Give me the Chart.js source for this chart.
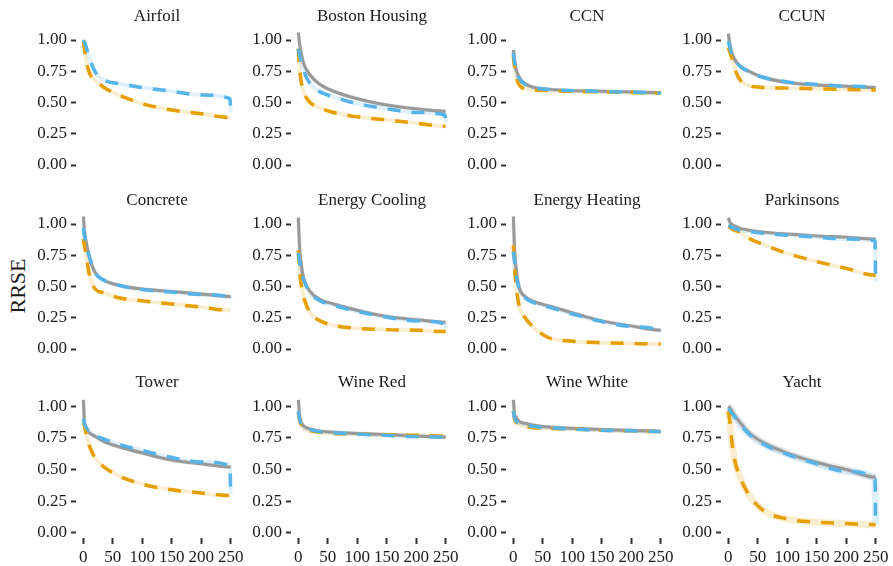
<!DOCTYPE html>
<html>
<head>
<meta charset="utf-8">
<script src="https://cdn.jsdelivr.net/npm/chart.js@4.4.1/dist/chart.umd.min.js"></script>
<style>
  html, body { margin: 0; padding: 0; background: #fff; }
  body { width: 893px; height: 566px; position: relative; overflow: hidden; }
  canvas { position: absolute; }
  #ylabel {
    position: absolute; left: 18px; top: 286px;
    font: 22px "Liberation Serif", serif; color: #1a1a1a;
    transform: translate(-50%, -50%) rotate(-90deg); white-space: nowrap;
  }
</style>
</head>
<body>
<div id="ylabel">RRSE</div>
<script>
// iteraciones (eje x) y ticks
const steps = [0, 2, 5, 10, 20, 35, 60, 100, 150, 200, 249, 250];
const xTicks = [0, 50, 100, 150, 200, 250];
const yTicks = [0, 0.25, 0.5, 0.75, 1];

// gris = linea solida, azul y naranja = discontinuas
const airfoilGray = null;
const airfoilBlue = [1.00, 0.98, 0.94, 0.86, 0.745, 0.68, 0.65, 0.62, 0.59, 0.56, 0.53, 0.42];
const airfoilOrange = [0.99, 0.92, 0.83, 0.74, 0.68, 0.62, 0.56, 0.49, 0.44, 0.41, 0.38, 0.38];

const bostonGray = [1.06, 0.97, 0.89, 0.80, 0.72, 0.65, 0.59, 0.53, 0.48, 0.45, 0.43, 0.43];
const bostonBlue = [0.93, 0.88, 0.82, 0.74, 0.65, 0.59, 0.545, 0.49, 0.45, 0.42, 0.40, 0.34];
const bostonOrange = [0.93, 0.78, 0.66, 0.57, 0.50, 0.46, 0.42, 0.385, 0.36, 0.335, 0.31, 0.31];

const ccnGray = [0.92, 0.84, 0.76, 0.70, 0.65, 0.62, 0.605, 0.595, 0.59, 0.585, 0.58, 0.58];
const ccnBlue = [0.90, 0.82, 0.75, 0.69, 0.645, 0.62, 0.605, 0.595, 0.588, 0.582, 0.575, 0.57];
const ccnOrange = [0.88, 0.78, 0.70, 0.64, 0.61, 0.60, 0.595, 0.59, 0.585, 0.58, 0.575, 0.575];

const ccunGray = [1.05, 0.98, 0.91, 0.85, 0.79, 0.75, 0.70, 0.66, 0.64, 0.63, 0.62, 0.62];
const ccunBlue = [0.99, 0.95, 0.90, 0.85, 0.79, 0.745, 0.70, 0.665, 0.645, 0.63, 0.62, 0.61];
const ccunOrange = [0.94, 0.91, 0.87, 0.78, 0.68, 0.635, 0.62, 0.615, 0.61, 0.605, 0.60, 0.60];

const concreteGray = [1.06, 0.94, 0.85, 0.74, 0.61, 0.55, 0.51, 0.48, 0.46, 0.44, 0.42, 0.42];
const concreteBlue = [0.97, 0.90, 0.83, 0.74, 0.61, 0.55, 0.51, 0.475, 0.455, 0.435, 0.415, 0.40];
const concreteOrange = [0.88, 0.82, 0.74, 0.60, 0.48, 0.45, 0.41, 0.385, 0.36, 0.335, 0.31, 0.31];

const coolingGray = [1.05, 0.82, 0.67, 0.55, 0.46, 0.40, 0.36, 0.31, 0.26, 0.235, 0.215, 0.215];
const coolingBlue = [0.77, 0.70, 0.62, 0.54, 0.45, 0.39, 0.35, 0.30, 0.255, 0.225, 0.20, 0.165];
const coolingOrange = [0.79, 0.63, 0.51, 0.40, 0.29, 0.23, 0.19, 0.165, 0.155, 0.15, 0.14, 0.14];

const heatingGray = [1.06, 0.80, 0.63, 0.49, 0.42, 0.38, 0.345, 0.29, 0.225, 0.185, 0.15, 0.15];
const heatingBlue = [0.78, 0.70, 0.58, 0.48, 0.41, 0.37, 0.335, 0.28, 0.22, 0.18, 0.145, 0.135];
const heatingOrange = [0.83, 0.66, 0.50, 0.34, 0.25, 0.17, 0.09, 0.062, 0.05, 0.045, 0.04, 0.04];

const parkinsonsGray = [1.05, 1.02, 1.00, 0.985, 0.965, 0.95, 0.935, 0.92, 0.905, 0.895, 0.88, 0.88];
const parkinsonsBlue = [0.99, 0.985, 0.975, 0.965, 0.95, 0.94, 0.925, 0.91, 0.895, 0.88, 0.865, 0.54];
const parkinsonsOrange = [0.98, 0.975, 0.965, 0.95, 0.935, 0.885, 0.835, 0.765, 0.70, 0.645, 0.59, 0.59];

const towerGray = [1.05, 0.87, 0.82, 0.79, 0.76, 0.72, 0.68, 0.63, 0.575, 0.545, 0.52, 0.52];
const towerBlue = [0.90, 0.86, 0.83, 0.80, 0.77, 0.74, 0.70, 0.65, 0.595, 0.56, 0.53, 0.31];
const towerOrange = [0.88, 0.84, 0.78, 0.69, 0.59, 0.52, 0.45, 0.385, 0.34, 0.315, 0.295, 0.295];

const wineRedGray = [1.05, 0.93, 0.87, 0.84, 0.82, 0.805, 0.795, 0.785, 0.775, 0.765, 0.755, 0.755];
const wineRedBlue = [0.96, 0.90, 0.86, 0.83, 0.815, 0.80, 0.79, 0.78, 0.77, 0.76, 0.755, 0.75];
const wineRedOrange = [0.95, 0.89, 0.85, 0.82, 0.805, 0.795, 0.785, 0.78, 0.775, 0.77, 0.765, 0.765];

const wineWhiteGray = [1.05, 0.94, 0.91, 0.88, 0.865, 0.85, 0.835, 0.825, 0.815, 0.81, 0.80, 0.80];
const wineWhiteBlue = [0.96, 0.91, 0.88, 0.865, 0.85, 0.84, 0.83, 0.82, 0.81, 0.805, 0.80, 0.80];
const wineWhiteOrange = [0.96, 0.90, 0.87, 0.855, 0.84, 0.83, 0.825, 0.82, 0.81, 0.805, 0.80, 0.80];

const yachtGray = [1.00, 0.99, 0.97, 0.93, 0.87, 0.79, 0.71, 0.63, 0.555, 0.50, 0.44, 0.44];
const yachtBlue = [0.98, 0.97, 0.95, 0.92, 0.86, 0.78, 0.70, 0.62, 0.545, 0.485, 0.425, 0.06];
const yachtOrange = [0.96, 0.90, 0.76, 0.59, 0.44, 0.30, 0.175, 0.11, 0.085, 0.074, 0.065, 0.065];

const panels = [
    { title: 'Airfoil', gray: airfoilGray, blue: airfoilBlue, orange: airfoilOrange },
    { title: 'Boston Housing', gray: bostonGray, blue: bostonBlue, orange: bostonOrange },
    { title: 'CCN', gray: ccnGray, blue: ccnBlue, orange: ccnOrange },
    { title: 'CCUN', gray: ccunGray, blue: ccunBlue, orange: ccunOrange },
    { title: 'Concrete', gray: concreteGray, blue: concreteBlue, orange: concreteOrange },
    { title: 'Energy Cooling', gray: coolingGray, blue: coolingBlue, orange: coolingOrange },
    { title: 'Energy Heating', gray: heatingGray, blue: heatingBlue, orange: heatingOrange },
    { title: 'Parkinsons', gray: parkinsonsGray, blue: parkinsonsBlue, orange: parkinsonsOrange },
    { title: 'Tower', gray: towerGray, blue: towerBlue, orange: towerOrange },
    { title: 'Wine Red', gray: wineRedGray, blue: wineRedBlue, orange: wineRedOrange },
    { title: 'Wine White', gray: wineWhiteGray, blue: wineWhiteBlue, orange: wineWhiteOrange },
    { title: 'Yacht', gray: yachtGray, blue: yachtBlue, orange: yachtOrange }
];

// estilo / posiciones
const FONT = 'Liberation Serif';
const TEXT = '#1a1a1a';
const AREA_W = 162, AXIS_W = 50, TITLE_H = 23, PAD_R = 10, PAD_B = 14;
const colLeft = [76, 291, 506, 721];
const rowTop = [30, 214, 396];
const rowHeight = [140, 140, 142];
const PAGE_H = 566;
const bandWidth = { Yacht: 7 };

const colors = {
    gray: { line: '#999999', band: 'rgba(153,153,153,0.22)', dash: [], width: 3 },
    orange: { line: '#E69F00', band: 'rgba(230,159,0,0.18)', dash: [13, 11], width: 3.5 },
    blue: { line: '#56B4E9', band: 'rgba(86,180,233,0.18)', dash: [13, 11], width: 3.5 }
};

const toPoints = function(values) {
    return values.map(function(v, i) {
        return { x: steps[i], y: v };
    });
};

function buildDatasets(p) {
    const lines = [];
    const bands = [];
    // el primero queda arriba
    ['blue', 'orange', 'gray'].forEach(function(key) {
        if (!p[key]) return;
        const c = colors[key];
        lines.push({
            data: toPoints(p[key]),
            borderColor: c.line,
            borderWidth: c.width,
            borderDash: c.dash,
            borderCapStyle: 'butt',
            cubicInterpolationMode: 'monotone',
            pointRadius: 0,
            fill: false,
            clip: false
        });
        bands.push({
            data: toPoints(p[key]),
            borderColor: c.band,
            borderWidth: bandWidth[p.title] || 4,
            borderCapStyle: 'butt',
            cubicInterpolationMode: 'monotone',
            pointRadius: 0,
            fill: false,
            clip: false
        });
    });
    return lines.concat(bands);
}

// quita el margen que chart.js reserva para las etiquetas de los extremos
function noEdgePadding(s) {
    s.paddingTop = 0;
    s.paddingBottom = 0;
    s.paddingLeft = 0;
    s.paddingRight = 0;
}

function makePanel(p, i) {
    const col = i % 4;
    const row = Math.floor(i / 4);
    const last = row === 2;
    const areaH = rowHeight[row];
    const top = rowTop[row] - TITLE_H;
    const xAxisH = PAGE_H - top - TITLE_H - areaH;

    const canvas = document.createElement('canvas');
    canvas.width = AXIS_W + AREA_W + PAD_R;
    canvas.height = TITLE_H + areaH + (last ? xAxisH : PAD_B);
    canvas.style.left = (colLeft[col] - AXIS_W) + 'px';
    canvas.style.top = top + 'px';
    document.body.appendChild(canvas);

    const tickFont = { family: FONT, size: 17 };

    new Chart(canvas.getContext('2d'), {
        type: 'line',
        data: { datasets: buildDatasets(p) },
        options: {
            responsive: false,
            animation: false,
            events: [],
            layout: { padding: { top: 0, left: 0, right: PAD_R, bottom: last ? 0 : PAD_B } },
            scales: {
                x: {
                    type: 'linear',
                    min: -12.5,
                    max: 262.5,
                    display: last,
                    afterBuildTicks: function(s) { s.ticks = xTicks.map(function(v) { return { value: v }; }); },
                    afterFit: function(s) { s.height = last ? xAxisH : 0; noEdgePadding(s); },
                    border: { display: false },
                    grid: { drawOnChartArea: false, tickLength: 6, tickWidth: 2, tickColor: '#333' },
                    ticks: { padding: 3, autoSkip: false, maxRotation: 0, color: TEXT, font: tickFont }
                },
                y: {
                    type: 'linear',
                    min: -0.04,
                    max: 1.08,
                    afterBuildTicks: function(s) { s.ticks = yTicks.map(function(v) { return { value: v }; }); },
                    afterFit: function(s) { s.width = AXIS_W; noEdgePadding(s); },
                    border: { display: false },
                    grid: { drawOnChartArea: false, tickLength: 5, tickWidth: 2, tickColor: '#333' },
                    ticks: {
                        padding: 4,
                        color: TEXT,
                        font: tickFont,
                        callback: function(v) { return v.toFixed(2); }
                    }
                }
            },
            plugins: {
                legend: { display: false },
                tooltip: { enabled: false },
                title: {
                    display: true,
                    text: p.title,
                    fullSize: false,
                    color: TEXT,
                    font: { family: FONT, size: 17, weight: 'normal', lineHeight: '20px' },
                    padding: { top: 0, bottom: 3 }
                }
            }
        }
    });
}

panels.forEach(makePanel);
</script>
</body>
</html>
